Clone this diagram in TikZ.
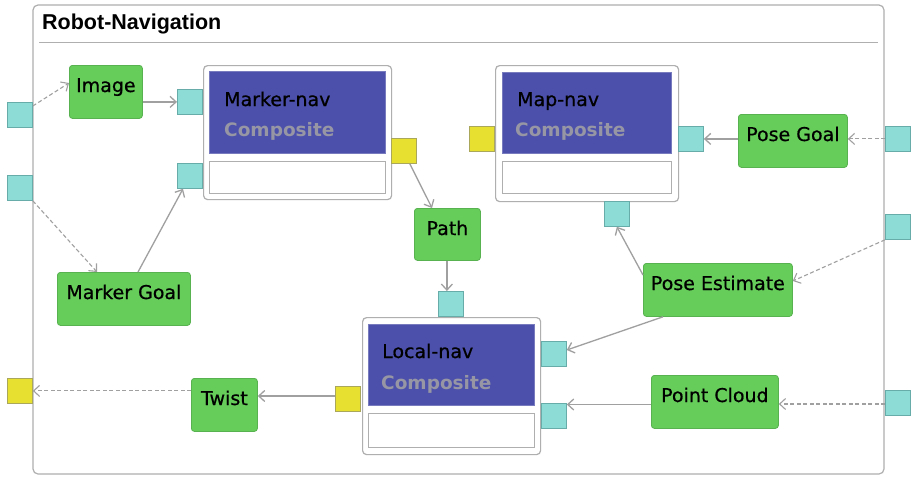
\documentclass[tikz,border=0pt]{standalone}
\usepackage{fontspec}
\setmainfont{DejaVu Sans}
\newfontfamily\titlefont{Liberation Sans}
\newfontfamily\nodefont{DejaVu Sans}[FakeBold=0.6]
\usetikzlibrary{arrows.meta}

\definecolor{nodegreen}{RGB}{102,204,90}
\definecolor{greenedge}{RGB}{88,178,80}
\definecolor{compblue}{RGB}{76,80,170}
\definecolor{blueedge}{RGB}{120,124,190}
\definecolor{portcyan}{RGB}{142,220,214}
\definecolor{portedge}{RGB}{104,172,170}
\definecolor{portyellow}{RGB}{232,224,48}
\definecolor{yellowedge}{RGB}{170,166,90}
\definecolor{wiregray}{RGB}{160,160,160}
\definecolor{framegray}{RGB}{175,175,175}
\definecolor{subtext}{RGB}{150,150,165}

\tikzset{
  gbox/.style={draw=greenedge, fill=nodegreen, rounded corners=3pt, line width=0.8pt,
    inner sep=0pt, anchor=north west},
  lbl/.style={font=\nodefont\fontsize{19}{19}\selectfont, text=black, anchor=base, inner sep=0pt},
  cport/.style={draw=portedge, fill=portcyan, line width=0.8pt, minimum size=25pt,
    inner sep=0pt, anchor=north west},
  yport/.style={draw=yellowedge, fill=portyellow, line width=0.8pt, minimum size=25pt,
    inner sep=0pt, anchor=north west},
  shell/.style={draw=framegray, fill=white, rounded corners=4pt, line width=1.2pt,
    inner sep=0pt, anchor=north west},
  core/.style={draw=blueedge, fill=compblue, line width=0.8pt, inner sep=0pt, anchor=north west},
  slot/.style={draw=framegray, fill=white, line width=1pt, inner sep=0pt, anchor=north west},
  ctitle/.style={font=\nodefont\fontsize{19}{19}\selectfont, text=black, anchor=base west, inner sep=0pt},
  csub/.style={font=\bfseries\fontsize{18.5}{18.5}\selectfont, text=subtext, anchor=base west, inner sep=0pt},
  wire/.style={draw=wiregray, line width=1.3pt, -{Straight Barb[length=6pt,width=11pt]}},
  feed/.style={wire, dashed, dash pattern=on 4pt off 2.5pt, line width=1.1pt},
}

\begin{document}
\begin{tikzpicture}[x=1pt,y=-1pt]
\useasboundingbox (0,0) rectangle (911,477);
\fill[white] (0,0) rectangle (911,477);

% outer container with its title bar
\draw[framegray, line width=1.2pt, rounded corners=5pt] (33,5) rectangle (884,474);
\draw[framegray, line width=1pt] (39,42) -- (878,42);
\node[font=\titlefont\bfseries\fontsize{21.5}{21.5}\selectfont, anchor=base west, inner sep=0pt]
  (title) at (42,29) {Robot-Navigation};

% composite: Marker-nav
\node[shell, minimum width=188pt, minimum height=134pt] (mnav) at (203,65) {};
\node[core, minimum width=176pt, minimum height=82pt] (mnavcore) at (209,71) {};
\node[slot, minimum width=176pt, minimum height=32pt] (mnavslot) at (209,161) {};
\node[ctitle] (mnavname) at (224,106) {Marker-nav};
\node[csub] (mnavsub) at (224,136) {Composite};
\node[cport] (mp1) at (177,89) {};
\node[cport] (mp2) at (177,163) {};
\node[yport] (mout) at (391,138) {};

% composite: Map-nav
\node[shell, minimum width=183pt, minimum height=136pt] (map) at (495,65) {};
\node[core, minimum width=169pt, minimum height=81pt] (mapcore) at (502,72) {};
\node[slot, minimum width=169pt, minimum height=32pt] (mapslot) at (502,161) {};
\node[ctitle] (mapname) at (517,106) {Map-nav};
\node[csub] (mapsub) at (515,136) {Composite};
\node[yport] (mapout) at (469,126) {};
\node[cport] (mr) at (678,126) {};
\node[cport] (mbp) at (604,201) {};

% composite: Local-nav
\node[shell, minimum width=178pt, minimum height=137pt] (lnav) at (362,317) {};
\node[core, minimum width=166pt, minimum height=81pt] (lnavcore) at (368,324) {};
\node[slot, minimum width=166pt, minimum height=34pt] (lnavslot) at (368,413) {};
\node[ctitle] (lnavname) at (382,358) {Local-nav};
\node[csub] (lnavsub) at (381,389) {Composite};
\node[cport] (ltop) at (438,291) {};
\node[cport] (lr1) at (541,341) {};
\node[cport] (lr2) at (541,403) {};
\node[yport] (lyel) at (335,386) {};

% leaf components
\node[gbox, minimum width=73pt, minimum height=53pt] (image) at (69,65) {};
\node[lbl] at ([yshift=-27pt]image.north) {Image};
\node[gbox, minimum width=133pt, minimum height=53pt] (mgoal) at (57,272) {};
\node[lbl] at ([yshift=-27pt]mgoal.north) {Marker Goal};
\node[gbox, minimum width=66pt, minimum height=52pt] (path) at (414,208) {};
\node[lbl] at ([yshift=-27pt]path.north) {Path};
\node[gbox, minimum width=109pt, minimum height=53pt] (pgoal) at (738,114) {};
\node[lbl] at ([yshift=-27pt]pgoal.north) {Pose Goal};
\node[gbox, minimum width=149pt, minimum height=53pt] (pest) at (643,263) {};
\node[lbl] at ([yshift=-27pt]pest.north) {Pose Estimate};
\node[gbox, minimum width=127pt, minimum height=53pt] (pcloud) at (651,375) {};
\node[lbl] at ([yshift=-27pt]pcloud.north) {Point Cloud};
\node[gbox, minimum width=66pt, minimum height=53pt] (twist) at (191,378) {};
\node[lbl] at ([yshift=-27pt]twist.north) {Twist};

% boundary ports of the container
\node[cport] (lp1) at (7,102) {};
\node[cport] (lp2) at (7,175) {};
\node[yport] (lout) at (7,378) {};
\node[cport] (rp1) at (885,126) {};
\node[cport] (rp2) at (885,214) {};
\node[cport] (rp3) at (885,390) {};

% connections
\draw[feed] ([yshift=-4pt]lp1.north east) -- ([yshift=-18pt]image.north west);
\draw[wire] (mp1.west -| image.east) -- (mp1.west);
\draw[feed] (lp2.south east) -- ([xshift=40pt]mgoal.north west);
\draw[wire] ([xshift=81pt]mgoal.north west) -- ([xshift=6pt]mp2.south west);
\draw[wire] ([xshift=-7pt]mout.south east) -- ([xshift=18pt]path.north west);
\draw[wire] ([xshift=-4pt]ltop.north |- path.south) -- ([xshift=-4pt]ltop.north);
\draw[wire] ([yshift=-12pt]pest.north west) -- (mbp.south);
\draw[feed] (rp2.south west) -- ([yshift=-18pt]pest.north east);
\draw[wire] ([xshift=20pt]pest.south west) -- ([yshift=-9pt]lr1.north east);
\draw[wire] ([yshift=-1.5pt]lr2.north east -| pcloud.west) -- ([yshift=-1.5pt]lr2.north east);
\draw[feed] ([yshift=-14pt]rp3.north west) -- ([yshift=-14pt]rp3.north west -| pcloud.east);
\draw[feed] (rp1.west) -- (rp1.west -| pgoal.east);
\draw[wire] (mr.east -| pgoal.west) -- (mr.east);
\draw[wire] ([yshift=-10pt]lyel.north west) -- ([yshift=-10pt]lyel.north west -| twist.east);
\draw[feed] (lout.east -| twist.west) -- (lout.east);
\end{tikzpicture}
\end{document}
